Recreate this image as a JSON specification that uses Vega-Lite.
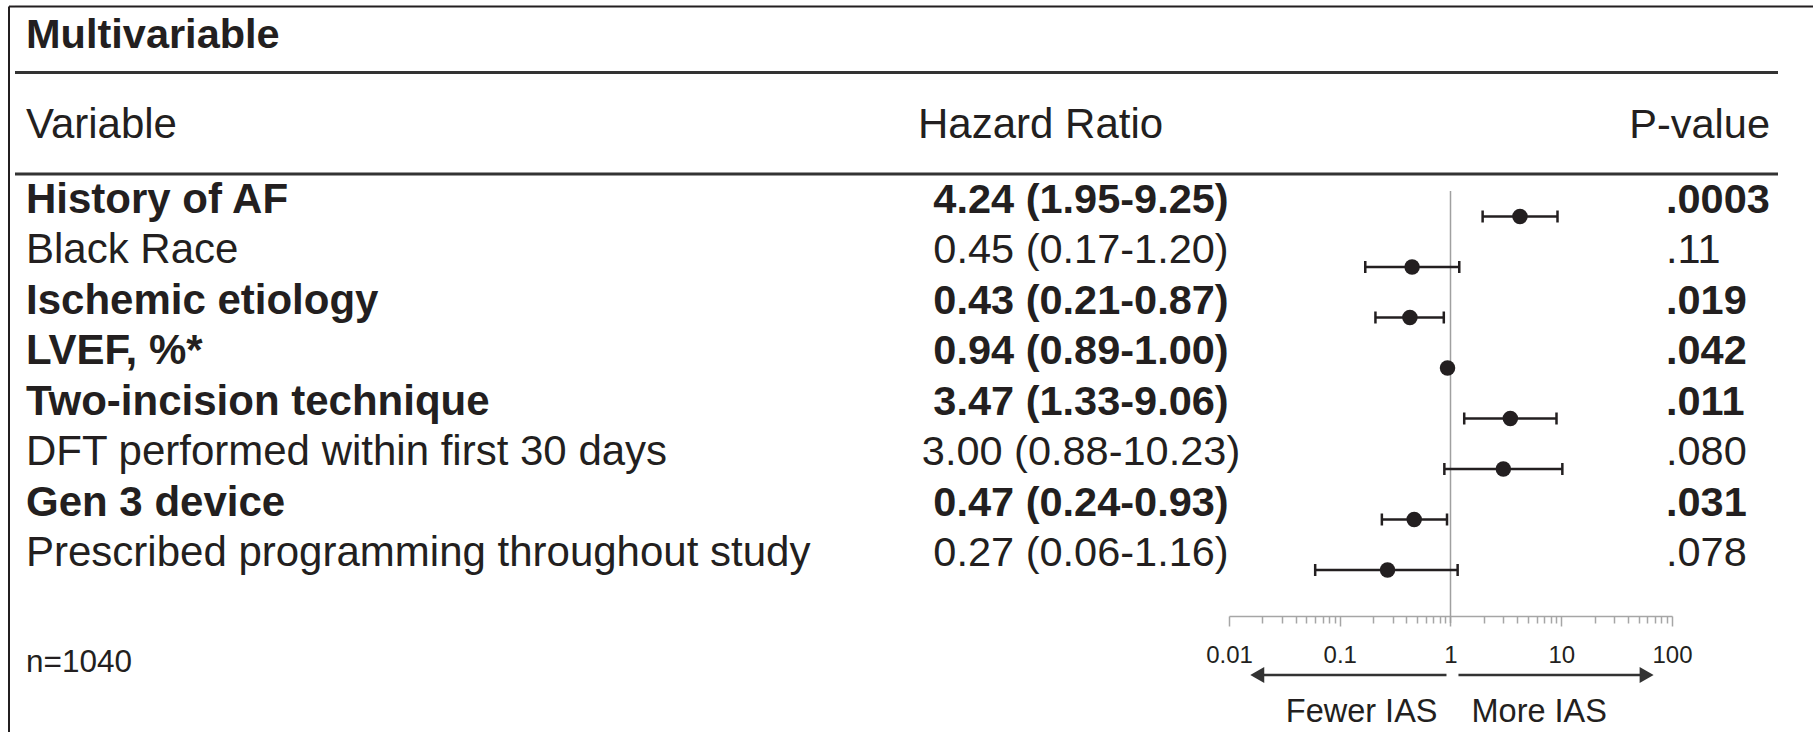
{
  "$schema": "https://vega.github.io/schema/vega-lite/v6.json",
  "background": "white",
  "padding": {"left": 8, "top": 0, "right": 0, "bottom": 0},
  "spacing": 0,
  "bounds": "flush",
  "config": {
    "view": {"stroke": null},
    "text": {"font": "Liberation Sans", "color": "#231f20"},
    "axis": {"labelFont": "Liberation Sans"}
  },
  "datasets": {
    "rows": [
      {"row": 1, "variable": "History of AF", "hr": 4.24, "lo": 1.95, "hi": 9.25, "hrText": "4.24 (1.95-9.25)", "p": ".0003", "sig": true},
      {"row": 2, "variable": "Black Race", "hr": 0.45, "lo": 0.17, "hi": 1.20, "hrText": "0.45 (0.17-1.20)", "p": ".11", "sig": false},
      {"row": 3, "variable": "Ischemic etiology", "hr": 0.43, "lo": 0.21, "hi": 0.87, "hrText": "0.43 (0.21-0.87)", "p": ".019", "sig": true},
      {"row": 4, "variable": "LVEF, %*", "hr": 0.94, "lo": 0.89, "hi": 1.00, "hrText": "0.94 (0.89-1.00)", "p": ".042", "sig": true},
      {"row": 5, "variable": "Two-incision technique", "hr": 3.47, "lo": 1.33, "hi": 9.06, "hrText": "3.47 (1.33-9.06)", "p": ".011", "sig": true},
      {"row": 6, "variable": "DFT performed within first 30 days", "hr": 3.00, "lo": 0.88, "hi": 10.23, "hrText": "3.00 (0.88-10.23)", "p": ".080", "sig": false},
      {"row": 7, "variable": "Gen 3 device", "hr": 0.47, "lo": 0.24, "hi": 0.93, "hrText": "0.47 (0.24-0.93)", "p": ".031", "sig": true},
      {"row": 8, "variable": "Prescribed programming throughout study", "hr": 0.27, "lo": 0.06, "hi": 1.16, "hrText": "0.27 (0.06-1.16)", "p": ".078", "sig": false}
    ],
    "arrows": [
      {"dir": "fewer", "start": 0.92, "end": 0.018, "label": "Fewer IAS"},
      {"dir": "more", "start": 1.18, "end": 59, "label": "More IAS"}
    ]
  },
  "hconcat": [
    {
      "width": 6, "height": 616,
      "layer": [
        {"data": {"values": [{}]}, "mark": {"type": "rule", "color": "#231f20", "strokeWidth": 2},
         "encoding": {"y": {"datum": -3.158, "type": "quantitative", "scale": {"domain": [-3.2871, 8.911], "reverse": true, "nice": false, "zero": false}, "axis": null}}},
        {"data": {"values": [{}]}, "mark": {"type": "rule", "color": "#231f20", "strokeWidth": 2},
         "encoding": {"x": {"value": 0}, "y": {"datum": -3.158, "type": "quantitative", "scale": {"domain": [-3.2871, 8.911], "reverse": true, "nice": false, "zero": false}, "axis": null}, "y2": {"datum": 11.208}}}
      ]
    },
    {
      "width": 918, "height": 616,
      "layer": [
        {"data": {"values": [{}]}, "mark": {"type": "rule", "color": "#231f20", "strokeWidth": 2},
         "encoding": {"y": {"datum": -3.158, "type": "quantitative", "scale": {"domain": [-3.2871, 8.911], "reverse": true, "nice": false, "zero": false}, "axis": null}}},
        {"data": {"values": [{}]}, "mark": {"type": "rule", "color": "#333333", "strokeWidth": 3},
         "encoding": {"y": {"datum": -1.851, "type": "quantitative", "scale": {"domain": [-3.2871, 8.911], "reverse": true, "nice": false, "zero": false}, "axis": null}}},
        {"data": {"values": [{}]}, "mark": {"type": "rule", "color": "#333333", "strokeWidth": 3},
         "encoding": {"y": {"datum": 0.158, "type": "quantitative", "scale": {"domain": [-3.2871, 8.911], "reverse": true, "nice": false, "zero": false}, "axis": null}}},
        {"data": {"values": [{}]}, "mark": {"type": "text", "text": "Multivariable", "fontSize": 41.5, "fontWeight": "bold", "align": "left", "baseline": "alphabetic", "dx": 11},
         "encoding": {"x": {"value": 0}, "y": {"datum": -2.327, "type": "quantitative", "scale": {"domain": [-3.2871, 8.911], "reverse": true, "nice": false, "zero": false}, "axis": null}}},
        {"data": {"values": [{}]}, "mark": {"type": "text", "text": "Variable", "fontSize": 42, "align": "left", "baseline": "alphabetic", "dx": 11},
         "encoding": {"x": {"value": 0}, "y": {"datum": -0.554, "type": "quantitative", "scale": {"domain": [-3.2871, 8.911], "reverse": true, "nice": false, "zero": false}, "axis": null}}},
        {"data": {"name": "rows"}, "transform": [{"filter": "datum.sig"}],
         "mark": {"type": "text", "fontSize": 42, "fontWeight": "bold", "align": "left", "baseline": "alphabetic", "dx": 11, "dy": -3.5},
         "encoding": {"x": {"value": 0}, "y": {"field": "row", "type": "quantitative", "scale": {"domain": [-3.2871, 8.911], "reverse": true, "nice": false, "zero": false}, "axis": null}, "text": {"field": "variable"}}},
        {"data": {"name": "rows"}, "transform": [{"filter": "!datum.sig"}],
         "mark": {"type": "text", "fontSize": 42, "align": "left", "baseline": "alphabetic", "dx": 11, "dy": -3.5},
         "encoding": {"x": {"value": 0}, "y": {"field": "row", "type": "quantitative", "scale": {"domain": [-3.2871, 8.911], "reverse": true, "nice": false, "zero": false}, "axis": null}, "text": {"field": "variable"}}},
        {"data": {"values": [{}]}, "mark": {"type": "text", "text": "n=1040", "fontSize": 31.5, "align": "left", "baseline": "alphabetic", "dx": 11},
         "encoding": {"x": {"value": 0}, "y": {"datum": 10.02, "type": "quantitative", "scale": {"domain": [-3.2871, 8.911], "reverse": true, "nice": false, "zero": false}, "axis": null}}}
      ]
    },
    {
      "width": 296, "height": 616,
      "layer": [
        {"data": {"values": [{}]}, "mark": {"type": "rule", "color": "#231f20", "strokeWidth": 2},
         "encoding": {"y": {"datum": -3.158, "type": "quantitative", "scale": {"domain": [-3.2871, 8.911], "reverse": true, "nice": false, "zero": false}, "axis": null}}},
        {"data": {"values": [{}]}, "mark": {"type": "rule", "color": "#333333", "strokeWidth": 3},
         "encoding": {"y": {"datum": -1.851, "type": "quantitative", "scale": {"domain": [-3.2871, 8.911], "reverse": true, "nice": false, "zero": false}, "axis": null}}},
        {"data": {"values": [{}]}, "mark": {"type": "rule", "color": "#333333", "strokeWidth": 3},
         "encoding": {"y": {"datum": 0.158, "type": "quantitative", "scale": {"domain": [-3.2871, 8.911], "reverse": true, "nice": false, "zero": false}, "axis": null}}},
        {"data": {"values": [{}]}, "mark": {"type": "text", "text": "Hazard Ratio", "fontSize": 42, "align": "left", "baseline": "alphabetic", "dx": -15},
         "encoding": {"x": {"value": 0}, "y": {"datum": -0.554, "type": "quantitative", "scale": {"domain": [-3.2871, 8.911], "reverse": true, "nice": false, "zero": false}, "axis": null}}},
        {"data": {"name": "rows"}, "transform": [{"filter": "datum.sig"}],
         "mark": {"type": "text", "fontSize": 41.5, "fontWeight": "bold", "align": "center", "baseline": "alphabetic", "dy": -3.5},
         "encoding": {"y": {"field": "row", "type": "quantitative", "scale": {"domain": [-3.2871, 8.911], "reverse": true, "nice": false, "zero": false}, "axis": null}, "text": {"field": "hrText"}}},
        {"data": {"name": "rows"}, "transform": [{"filter": "!datum.sig"}],
         "mark": {"type": "text", "fontSize": 41.5, "align": "center", "baseline": "alphabetic", "dy": -3.5},
         "encoding": {"y": {"field": "row", "type": "quantitative", "scale": {"domain": [-3.2871, 8.911], "reverse": true, "nice": false, "zero": false}, "axis": null}, "text": {"field": "hrText"}}}
      ]
    },
    {
      "width": 443, "height": 616,
      "layer": [
        {"data": {"values": [{}]}, "mark": {"type": "rule", "color": "#231f20", "strokeWidth": 2},
         "encoding": {"y": {"datum": -3.158, "type": "quantitative", "scale": {"domain": [-3.2871, 8.911], "reverse": true, "nice": false, "zero": false}, "axis": null}}},
        {"data": {"values": [{}]}, "mark": {"type": "rule", "color": "#333333", "strokeWidth": 3},
         "encoding": {"y": {"datum": -1.851, "type": "quantitative", "scale": {"domain": [-3.2871, 8.911], "reverse": true, "nice": false, "zero": false}, "axis": null}}},
        {"data": {"values": [{}]}, "mark": {"type": "rule", "color": "#333333", "strokeWidth": 3},
         "encoding": {"y": {"datum": 0.158, "type": "quantitative", "scale": {"domain": [-3.2871, 8.911], "reverse": true, "nice": false, "zero": false}, "axis": null}}},
        {"data": {"values": [{}]}, "mark": {"type": "rule", "color": "#a0a0a0", "strokeWidth": 1.5},
         "encoding": {
           "x": {"datum": 1, "type": "quantitative", "scale": {"type": "log", "domain": [0.01, 100], "nice": false},
                 "axis": {
                   "orient": "bottom", "title": null, "grid": false,
                   "values": [0.01, 0.02, 0.03, 0.04, 0.05, 0.06, 0.07, 0.08, 0.09, 0.1, 0.2, 0.3, 0.4, 0.5, 0.6, 0.7, 0.8, 0.9, 1, 2, 3, 4, 5, 6, 7, 8, 9, 10, 20, 30, 40, 50, 60, 70, 80, 90, 100],
                   "labelExpr": "(datum.value == 0.01 || datum.value == 0.1 || datum.value == 1 || datum.value == 10 || datum.value == 100) ? format(datum.value, '~g') : ''",
                   "tickSize": {"condition": {"test": "datum.value == 0.01 || datum.value == 0.1 || datum.value == 1 || datum.value == 10 || datum.value == 100", "value": 10}, "value": 7},
                   "labelPadding": 17,
                   "labelFontSize": 24, "labelColor": "#231f20",
                   "domainColor": "#a6a6a6", "domainWidth": 1.5, "tickColor": "#a6a6a6", "tickWidth": 1.5,
                   "labelFlush": false, "labelOverlap": false
                 }},
           "y": {"datum": 0.495, "type": "quantitative", "scale": {"domain": [-3.2871, 8.911], "reverse": true, "nice": false, "zero": false}, "axis": null},
           "y2": {"datum": 9.05}}},
        {"data": {"name": "rows"}, "mark": {"type": "rule", "color": "#231f20", "strokeWidth": 2.5},
         "encoding": {
           "x": {"field": "lo", "type": "quantitative", "scale": {"type": "log", "domain": [0.01, 100], "nice": false}},
           "x2": {"field": "hi"},
           "y": {"field": "row", "type": "quantitative", "scale": {"domain": [-3.2871, 8.911], "reverse": true, "nice": false, "zero": false}, "axis": null}}},
        {"data": {"name": "rows"}, "mark": {"type": "tick", "orient": "vertical", "size": 12, "thickness": 2.5, "color": "#231f20", "opacity": 1},
         "encoding": {
           "x": {"field": "lo", "type": "quantitative", "scale": {"type": "log", "domain": [0.01, 100], "nice": false}},
           "y": {"field": "row", "type": "quantitative", "scale": {"domain": [-3.2871, 8.911], "reverse": true, "nice": false, "zero": false}, "axis": null}}},
        {"data": {"name": "rows"}, "mark": {"type": "tick", "orient": "vertical", "size": 12, "thickness": 2.5, "color": "#231f20", "opacity": 1},
         "encoding": {
           "x": {"field": "hi", "type": "quantitative", "scale": {"type": "log", "domain": [0.01, 100], "nice": false}},
           "y": {"field": "row", "type": "quantitative", "scale": {"domain": [-3.2871, 8.911], "reverse": true, "nice": false, "zero": false}, "axis": null}}},
        {"data": {"name": "rows"}, "mark": {"type": "point", "shape": "circle", "filled": true, "size": 240, "color": "#231f20", "opacity": 1},
         "encoding": {
           "x": {"field": "hr", "type": "quantitative", "scale": {"type": "log", "domain": [0.01, 100], "nice": false}},
           "y": {"field": "row", "type": "quantitative", "scale": {"domain": [-3.2871, 8.911], "reverse": true, "nice": false, "zero": false}, "axis": null}}},
        {"data": {"name": "arrows"}, "mark": {"type": "rule", "color": "#333333", "strokeWidth": 2.5},
         "encoding": {
           "x": {"field": "start", "type": "quantitative", "scale": {"type": "log", "domain": [0.01, 100], "nice": false}},
           "x2": {"field": "end"},
           "y": {"datum": 10.08, "type": "quantitative", "scale": {"domain": [-3.2871, 8.911], "reverse": true, "nice": false, "zero": false}, "axis": null}}},
        {"data": {"name": "arrows"}, "mark": {"type": "point", "filled": true, "size": 260, "color": "#333333", "opacity": 1},
         "encoding": {
           "x": {"field": "end", "type": "quantitative", "scale": {"type": "log", "domain": [0.01, 100], "nice": false}},
           "y": {"datum": 10.08, "type": "quantitative", "scale": {"domain": [-3.2871, 8.911], "reverse": true, "nice": false, "zero": false}, "axis": null},
           "shape": {"field": "dir", "type": "nominal", "scale": {"domain": ["fewer", "more"], "range": ["triangle-left", "triangle-right"]}, "legend": null}}},
        {"data": {"name": "arrows"}, "transform": [{"filter": "datum.dir == 'fewer'"}],
         "mark": {"type": "text", "fontSize": 32.5, "align": "right", "baseline": "alphabetic", "dx": -13},
         "encoding": {
           "x": {"datum": 1, "type": "quantitative", "scale": {"type": "log", "domain": [0.01, 100], "nice": false}},
           "y": {"datum": 11.01, "type": "quantitative", "scale": {"domain": [-3.2871, 8.911], "reverse": true, "nice": false, "zero": false}, "axis": null},
           "text": {"field": "label"}}},
        {"data": {"name": "arrows"}, "transform": [{"filter": "datum.dir == 'more'"}],
         "mark": {"type": "text", "fontSize": 32.5, "align": "left", "baseline": "alphabetic", "dx": 21},
         "encoding": {
           "x": {"datum": 1, "type": "quantitative", "scale": {"type": "log", "domain": [0.01, 100], "nice": false}},
           "y": {"datum": 11.01, "type": "quantitative", "scale": {"domain": [-3.2871, 8.911], "reverse": true, "nice": false, "zero": false}, "axis": null},
           "text": {"field": "label"}}}
      ]
    },
    {
      "width": 106, "height": 616,
      "layer": [
        {"data": {"values": [{}]}, "mark": {"type": "rule", "color": "#231f20", "strokeWidth": 2},
         "encoding": {"y": {"datum": -3.158, "type": "quantitative", "scale": {"domain": [-3.2871, 8.911], "reverse": true, "nice": false, "zero": false}, "axis": null}}},
        {"data": {"values": [{}]}, "mark": {"type": "rule", "color": "#333333", "strokeWidth": 3},
         "encoding": {"y": {"datum": -1.851, "type": "quantitative", "scale": {"domain": [-3.2871, 8.911], "reverse": true, "nice": false, "zero": false}, "axis": null}}},
        {"data": {"values": [{}]}, "mark": {"type": "rule", "color": "#333333", "strokeWidth": 3},
         "encoding": {"y": {"datum": 0.158, "type": "quantitative", "scale": {"domain": [-3.2871, 8.911], "reverse": true, "nice": false, "zero": false}, "axis": null}}},
        {"data": {"values": [{}]}, "mark": {"type": "text", "text": "P-value", "fontSize": 41.5, "align": "right", "baseline": "alphabetic", "dx": -8},
         "encoding": {"x": {"value": "width"}, "y": {"datum": -0.554, "type": "quantitative", "scale": {"domain": [-3.2871, 8.911], "reverse": true, "nice": false, "zero": false}, "axis": null}}},
        {"data": {"name": "rows"}, "transform": [{"filter": "datum.sig"}],
         "mark": {"type": "text", "fontSize": 41.5, "fontWeight": "bold", "align": "left", "baseline": "alphabetic", "dx": -6, "dy": -3.5},
         "encoding": {"x": {"value": 0}, "y": {"field": "row", "type": "quantitative", "scale": {"domain": [-3.2871, 8.911], "reverse": true, "nice": false, "zero": false}, "axis": null}, "text": {"field": "p"}}},
        {"data": {"name": "rows"}, "transform": [{"filter": "!datum.sig"}],
         "mark": {"type": "text", "fontSize": 41.5, "align": "left", "baseline": "alphabetic", "dx": -6, "dy": -3.5},
         "encoding": {"x": {"value": 0}, "y": {"field": "row", "type": "quantitative", "scale": {"domain": [-3.2871, 8.911], "reverse": true, "nice": false, "zero": false}, "axis": null}, "text": {"field": "p"}}}
      ]
    },
    {
      "width": 35, "height": 616,
      "layer": [
        {"data": {"values": [{}]}, "mark": {"type": "rule", "color": "#231f20", "strokeWidth": 2},
         "encoding": {"y": {"datum": -3.158, "type": "quantitative", "scale": {"domain": [-3.2871, 8.911], "reverse": true, "nice": false, "zero": false}, "axis": null}}}
      ]
    }
  ]
}
